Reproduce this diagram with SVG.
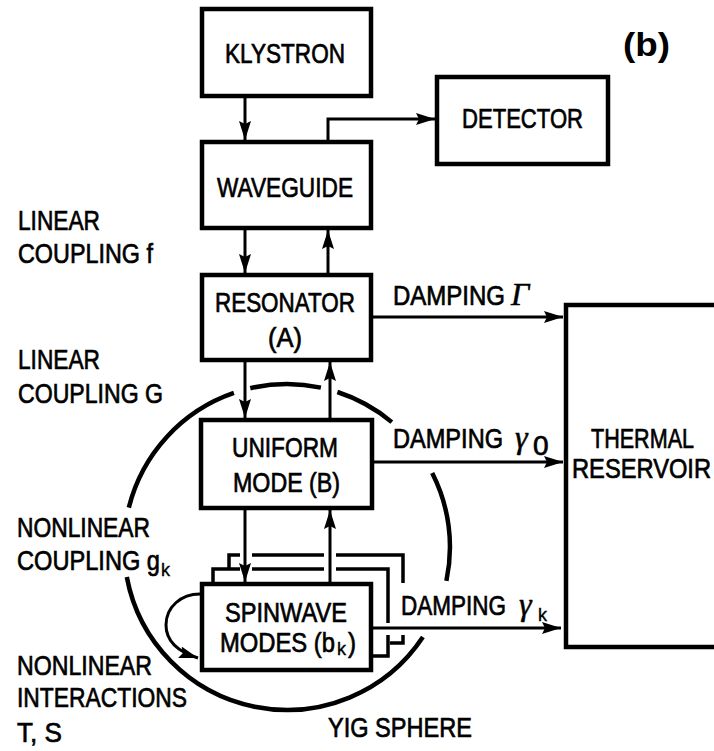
<svg xmlns="http://www.w3.org/2000/svg" width="714" height="751" viewBox="0 0 714 751">
<defs>
<style>
.box{fill:none;stroke:#000;stroke-width:4.5}
.back{fill:none;stroke:#000;stroke-width:3.5}
.ln{fill:none;stroke:#000;stroke-width:3}
.sph{fill:none;stroke:#000;stroke-width:4.5}
.t{font-family:"Liberation Sans",Arial,sans-serif;font-size:28px;fill:#000;stroke:#000;stroke-width:0.7}
.sub{font-family:"Liberation Sans",Arial,sans-serif;font-size:18px;fill:#000;stroke:#000;stroke-width:0.4}
.gr{font-family:"Liberation Serif","Times New Roman",serif;font-style:italic;font-size:32px;fill:#000;stroke:#000;stroke-width:0.5}
.bold{font-family:"Liberation Sans",Arial,sans-serif;font-weight:bold;font-size:34px;fill:#000}
</style>
<marker id="ah" markerUnits="userSpaceOnUse" markerWidth="19" markerHeight="12" refX="19" refY="6" orient="auto">
<path d="M0,0 L19,6 L0,12 L3,6 Z" fill="#000"/>
</marker>
</defs>
<rect width="714" height="751" fill="#fff"/>

<g id="klystron">
<rect class="box" x="202" y="9" width="169" height="87"/>
<text class="t" x="225" y="63" textLength="120" lengthAdjust="spacingAndGlyphs">KLYSTRON</text>
</g>
<g id="waveguide">
<rect class="box" x="202" y="142" width="169" height="86"/>
<text class="t" x="217" y="197" textLength="136" lengthAdjust="spacingAndGlyphs">WAVEGUIDE</text>
</g>
<g id="detector">
<rect class="box" x="437" y="77" width="171" height="87"/>
<text class="t" x="462" y="128" textLength="121" lengthAdjust="spacingAndGlyphs">DETECTOR</text>
</g>
<g id="resonator">
<rect class="box" x="202" y="275" width="169" height="85"/>
<text class="t" x="215" y="312" textLength="140" lengthAdjust="spacingAndGlyphs">RESONATOR</text>
<text class="t" x="268" y="347" textLength="34" lengthAdjust="spacingAndGlyphs">(A)</text>
</g>
<g id="uniform-mode">
<rect class="box" x="201" y="420" width="171" height="88"/>
<text class="t" x="232" y="457" textLength="106" lengthAdjust="spacingAndGlyphs">UNIFORM</text>
<text class="t" x="233" y="492" textLength="107" lengthAdjust="spacingAndGlyphs">MODE (B)</text>
</g>
<g id="spinwave-modes">
<path class="back" d="M229,569 V555 H240 M252,555 H324 M336,555 H403 V583 M390,643 H403 V635"/>
<path class="back" d="M213,584 V569 H240 M252,569 H324 M336,569 H388 V623 M388,635 V656 H372"/>
<rect class="box" x="202" y="584" width="169" height="86" fill="#fff"/>
<text class="t" x="225" y="622" textLength="122" lengthAdjust="spacingAndGlyphs">SPINWAVE</text>
<text class="t" x="220" y="652" textLength="115" lengthAdjust="spacingAndGlyphs">MODES (b</text>
<text class="sub" x="337" y="655">k</text>
<text class="t" x="348" y="652" textLength="8" lengthAdjust="spacingAndGlyphs">)</text>
</g>
<g id="thermal-reservoir">
<path class="box" d="M720,305 H566 V647 H720"/>
<text class="t" x="591" y="448" textLength="103" lengthAdjust="spacingAndGlyphs">THERMAL</text>
<text class="t" x="572" y="478" textLength="139" lengthAdjust="spacingAndGlyphs">RESERVOIR</text>
</g>
<g id="yig-sphere">
<path class="sph" d="M128.8,507.6 A163,163 0 0 1 233.9,392.9"/>
<path class="sph" d="M250.3,388.2 A163,163 0 0 1 320.9,387.6"/>
<path class="sph" d="M337.4,392 A163,163 0 0 1 391.8,422.1"/>
<path class="sph" d="M432.2,473 A163,163 0 0 1 446.4,580.9"/>
<path class="sph" d="M422.9,637 A163,163 0 0 1 126.8,577"/>
<text class="t" x="328" y="737" textLength="144" lengthAdjust="spacingAndGlyphs">YIG SPHERE</text>
</g>

<g id="connectors">
<line class="ln" x1="245" y1="96" x2="245" y2="140" marker-end="url(#ah)"/>
<path class="ln" d="M328,140 V119 H435" marker-end="url(#ah)"/>
<line class="ln" x1="245" y1="228" x2="245" y2="273" marker-end="url(#ah)"/>
<line class="ln" x1="328" y1="273" x2="328" y2="230" marker-end="url(#ah)"/>
<line class="ln" x1="245" y1="360" x2="245" y2="418" marker-end="url(#ah)"/>
<line class="ln" x1="330" y1="418" x2="330" y2="362" marker-end="url(#ah)"/>
<line class="ln" x1="245" y1="508" x2="245" y2="582" marker-end="url(#ah)"/>
<line class="ln" x1="330" y1="582" x2="330" y2="510" marker-end="url(#ah)"/>
<line class="ln" x1="371" y1="317" x2="563" y2="317" marker-end="url(#ah)"/>
<line class="ln" x1="372" y1="462" x2="563" y2="462" marker-end="url(#ah)"/>
<line class="ln" x1="371" y1="628" x2="561" y2="628" marker-end="url(#ah)"/>
<path class="ln" d="M200,594 C181,594 166,607 166,625 C166,642 179,652 198,658" marker-end="url(#ah)"/>
</g>

<g id="labels">
<text class="bold" x="623" y="56" textLength="47" lengthAdjust="spacingAndGlyphs">(b)</text>
<text class="t" x="18" y="230" textLength="82" lengthAdjust="spacingAndGlyphs">LINEAR</text>
<text class="t" x="18" y="263" textLength="135" lengthAdjust="spacingAndGlyphs">COUPLING f</text>
<text class="t" x="18" y="369" textLength="82" lengthAdjust="spacingAndGlyphs">LINEAR</text>
<text class="t" x="18" y="403" textLength="145" lengthAdjust="spacingAndGlyphs">COUPLING G</text>
<text class="t" x="17" y="537" textLength="133" lengthAdjust="spacingAndGlyphs">NONLINEAR</text>
<text class="t" x="17" y="570" textLength="143" lengthAdjust="spacingAndGlyphs">COUPLING g</text>
<text class="sub" x="161" y="576">k</text>
<text class="t" x="17" y="675" textLength="135" lengthAdjust="spacingAndGlyphs">NONLINEAR</text>
<text class="t" x="17" y="707" textLength="170" lengthAdjust="spacingAndGlyphs">INTERACTIONS</text>
<text class="t" x="17" y="742" textLength="45" lengthAdjust="spacingAndGlyphs">T, S</text>
<text class="t" x="393" y="305" textLength="112" lengthAdjust="spacingAndGlyphs">DAMPING</text>
<text class="gr" x="511" y="305">Γ</text>
<text class="t" x="393" y="448" textLength="110" lengthAdjust="spacingAndGlyphs">DAMPING</text>
<text class="gr" x="515" y="448">γ</text>
<text class="t" x="533" y="455" font-size="20">0</text>
<text class="t" x="401" y="615" textLength="105" lengthAdjust="spacingAndGlyphs">DAMPING</text>
<text class="gr" x="519" y="615">γ</text>
<text class="sub" x="538" y="621">k</text>
</g>
</svg>
